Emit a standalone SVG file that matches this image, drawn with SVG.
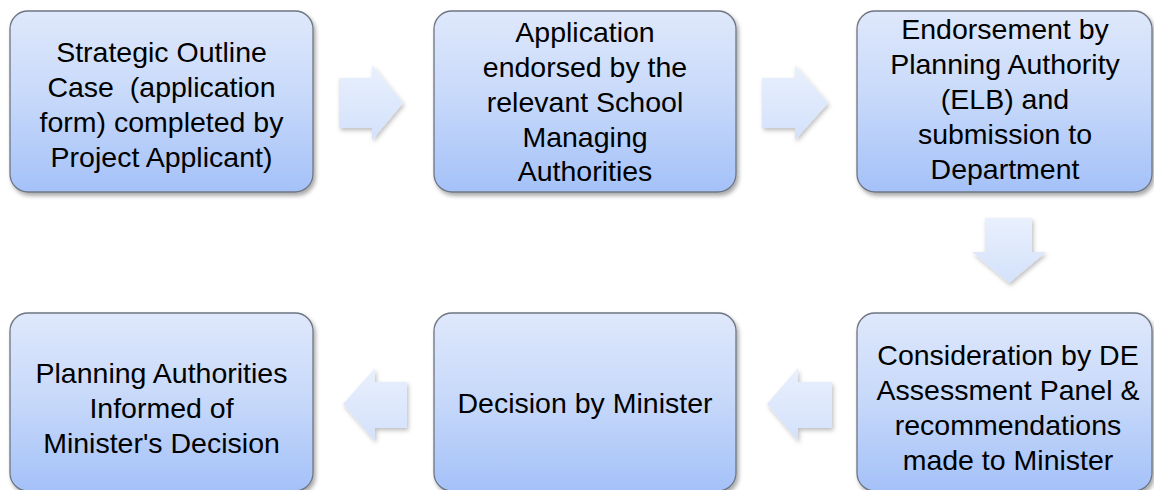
<svg xmlns="http://www.w3.org/2000/svg" width="1154" height="490" viewBox="0 0 1154 490">
  <defs>
    <linearGradient id="boxGrad" x1="0" y1="0" x2="0" y2="1">
      <stop offset="0" stop-color="#dfe8fb"/>
      <stop offset="0.5" stop-color="#c6d8fa"/>
      <stop offset="1" stop-color="#a4c1f8"/>
    </linearGradient>
    <linearGradient id="arrowGrad" x1="0" y1="0" x2="0" y2="1">
      <stop offset="0" stop-color="#e9f0fd"/>
      <stop offset="1" stop-color="#d3e1fb"/>
    </linearGradient>
    <filter id="boxShadow" x="-10%" y="-10%" width="125%" height="125%">
      <feDropShadow dx="2" dy="3" stdDeviation="2" flood-color="#000" flood-opacity="0.35"/>
    </filter>
    <filter id="arrowShadow" x="-20%" y="-20%" width="150%" height="150%">
      <feDropShadow dx="1.5" dy="2.5" stdDeviation="2" flood-color="#000" flood-opacity="0.25"/>
    </filter>
  </defs>
  <style>
    .box { fill: url(#boxGrad); stroke: #6e7582; stroke-width: 1.3; filter: url(#boxShadow); }
    .arrow { fill: url(#arrowGrad); stroke: none; filter: url(#arrowShadow); }
    .lbl { font-family: "Liberation Sans", Arial, sans-serif; font-size: 28.5px; fill: #000; text-anchor: middle; }
  </style>
  <rect width="1154" height="490" fill="#ffffff"/>

  <g id="connectors">
    <polygon class="arrow" points="339,78 372,78 372,65 403,103 372,140 372,128 339,128"/>
    <polygon class="arrow" points="762,78 795,78 795,65 828,103 795,140 795,128 762,128"/>
    <polygon class="arrow" points="985,218 1032,218 1032,252 1046,252 1009,283 972,252 985,252"/>
    <polygon class="arrow" points="832,382 798,382 798,368 767,404 798,441 798,428 832,428"/>
    <polygon class="arrow" points="407,382 375,382 375,368 343,404 375,441 375,428 407,428"/>
  </g>

  <g id="node1">
    <rect class="box" x="10" y="11" width="303" height="181" rx="18"/>
    <text class="lbl" x="161.5" y="62">Strategic Outline</text>
    <text class="lbl" x="161.5" y="97" xml:space="preserve">Case  (application</text>
    <text class="lbl" x="161.5" y="132">form) completed by</text>
    <text class="lbl" x="161.5" y="167">Project Applicant)</text>
  </g>

  <g id="node2">
    <rect class="box" x="434" y="11" width="302" height="181" rx="18"/>
    <text class="lbl" x="585" y="42">Application</text>
    <text class="lbl" x="585" y="77">endorsed by the</text>
    <text class="lbl" x="585" y="112">relevant School</text>
    <text class="lbl" x="585" y="147">Managing</text>
    <text class="lbl" x="585" y="181">Authorities</text>
  </g>

  <g id="node3">
    <rect class="box" x="857" y="11" width="295" height="181" rx="18"/>
    <text class="lbl" x="1005" y="39">Endorsement by</text>
    <text class="lbl" x="1005" y="74">Planning Authority</text>
    <text class="lbl" x="1005" y="109">(ELB) and</text>
    <text class="lbl" x="1005" y="144">submission to</text>
    <text class="lbl" x="1005" y="179">Department</text>
  </g>

  <g id="node4">
    <rect class="box" x="857" y="313" width="295" height="178" rx="18"/>
    <text class="lbl" x="1008" y="365">Consideration by DE</text>
    <text class="lbl" x="1008" y="400">Assessment Panel &amp;</text>
    <text class="lbl" x="1008" y="435">recommendations</text>
    <text class="lbl" x="1008" y="470">made to Minister</text>
  </g>

  <g id="node5">
    <rect class="box" x="434" y="313" width="302" height="178" rx="18"/>
    <text class="lbl" x="585" y="413">Decision by Minister</text>
  </g>

  <g id="node6">
    <rect class="box" x="10" y="313" width="303" height="178" rx="18"/>
    <text class="lbl" x="161.5" y="383">Planning Authorities</text>
    <text class="lbl" x="161.5" y="418">Informed of</text>
    <text class="lbl" x="161.5" y="453">Minister's Decision</text>
  </g>
</svg>
